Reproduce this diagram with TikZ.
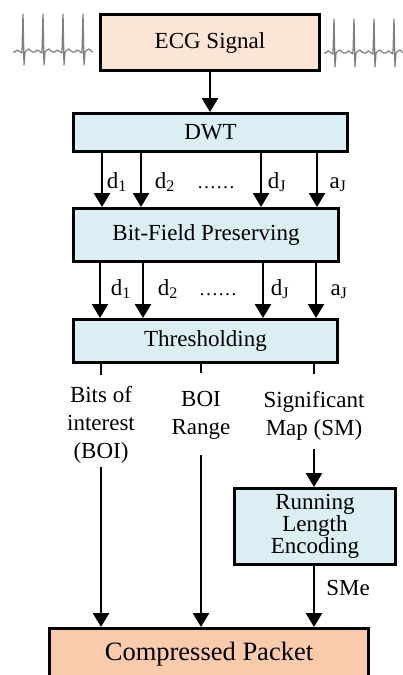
\documentclass[tikz,border=0pt]{standalone}
\usepackage{fontspec}
\setmainfont{Liberation Serif}
\usetikzlibrary{arrows.meta}

\definecolor{peachlight}{HTML}{FCE4D6}
\definecolor{peachdark}{HTML}{F8CBAD}
\definecolor{paleblue}{HTML}{DAEEF3}
\definecolor{ecggray}{HTML}{808080}

\tikzset{
  box/.style={draw=black, line width=3pt, inner sep=0pt, anchor=north west,
              font=\fontsize{23}{24}\selectfont},
  ln/.style={line width=2.8pt},
  arr/.style={line width=2.8pt, -{Triangle[width=16pt,length=14pt]}},
  lbl/.style={font=\fontsize{23}{24}\selectfont, inner sep=0pt, anchor=base},
  dotlbl/.style={font=\fontsize{19}{20}\selectfont, inner sep=0pt, anchor=base},
  outtext/.style={font=\fontsize{23}{28}\selectfont, align=center, inner sep=0pt, anchor=north},
  ecg/.style={ecggray, line width=1.3pt, line join=round}
}

% one heartbeat of the trace: spike at x=#1, baseline #2, peak #3, trough #4
\newcommand{\heartbeat}[4]{%
  \draw[ecg] (#1-10,#2) -- (#1-8,#2) -- (#1-6,#2-2) -- (#1-4,#2-1) -- (#1-2.5,#2)
    -- (#1-1,#2+1) -- (#1,#3) -- (#1+1,#4) -- (#1+2,#2) -- (#1+4,#2-2)
    -- (#1+6,#2-3) -- (#1+8,#2-1) -- (#1+10,#2);}

\begin{document}
\begin{tikzpicture}[x=1pt,y=-1pt]
\useasboundingbox (0,0) rectangle (403,675);

% ECG traces on both sides of the input block
\foreach \s in {23,43,63,83} { \heartbeat{\s}{52}{14}{65} }
\foreach \s in {334,354,374,394} { \heartbeat{\s}{53}{19}{67} }

% processing blocks
\node[box, fill=peachlight, minimum width=219, minimum height=56] (ecgbox) at (99,13) {ECG Signal};
\node[box, fill=paleblue, minimum width=274, minimum height=38] (dwt) at (72,112) {DWT};
\node[box, fill=paleblue, minimum width=265, minimum height=53] (bfp) at (72,207) {Bit-Field Preserving};
\node[box, fill=paleblue, minimum width=264, minimum height=43] (thr) at (72,318) {Thresholding};
\node[box, fill=paleblue, minimum width=161, minimum height=76, align=center,
      font=\fontsize{23}{22}\selectfont] (rle) at (233,487) {Running\\Length\\Encoding};
\node[box, fill=peachdark, minimum width=319, text height=32, text depth=60,
      font=\fontsize{26.5}{28}\selectfont] (pkt) at (48,627) {Compressed Packet};

% input to transform
\draw[arr] (ecgbox.south) -- (dwt.north -| ecgbox.south);

% sub-bands from DWT into the bit-field stage
\foreach \x in {102,141,261,317} { \draw[arr] (dwt.south -| \x,0) -- (bfp.north -| \x,0); }
\node[lbl] (da1) at (117,188) {d\textsubscript{1}};
\node[lbl] (da2) at (165,188) {d\textsubscript{2}};
\node[dotlbl] (dadots) at (216,188) {……};
\node[lbl] (daJ) at (277,188) {d\textsubscript{J}};
\node[lbl] (aaJ) at (338,188) {a\textsubscript{J}};

% sub-bands from bit-field stage into thresholding
\foreach \x in {100,143,263,316} { \draw[arr] (bfp.south -| \x,0) -- (thr.north -| \x,0); }
\node[lbl] (db1) at (121,295) {d\textsubscript{1}};
\node[lbl] (db2) at (168,295) {d\textsubscript{2}};
\node[dotlbl] (dbdots) at (218,295) {……};
\node[lbl] (dbJ) at (280,295) {d\textsubscript{J}};
\node[lbl] (abJ) at (339,295) {a\textsubscript{J}};

% thresholding outputs
\node[outtext] (boi) at (101,386) {Bits of\\interest\\(BOI)};
\node[outtext] (rng) at (201,391) {BOI\\Range};
\node[outtext] (sm) at (314,391) {Significant\\Map (SM)};

\draw[ln] (thr.south -| boi.north) -- ([yshift=11pt]boi.north);
\draw[ln] (thr.south -| rng.north) -- ([yshift=18pt]rng.north);
\draw[ln] (thr.south -| sm.north) -- ([yshift=17pt]sm.north);

\draw[arr] ([yshift=-4pt]boi.south) -- (pkt.north -| boi.south);
\draw[arr] ([yshift=-15pt]rng.south) -- (pkt.north -| rng.south);
\draw[arr] ([yshift=-9pt]sm.south) -- (rle.north -| sm.south);

% run-length encoded map into the packet
\draw[arr] (rle.south -| sm.south) -- (pkt.north -| sm.south);
\node[lbl, anchor=center] (sme) at (348,588) {SMe};
\end{tikzpicture}
\end{document}
